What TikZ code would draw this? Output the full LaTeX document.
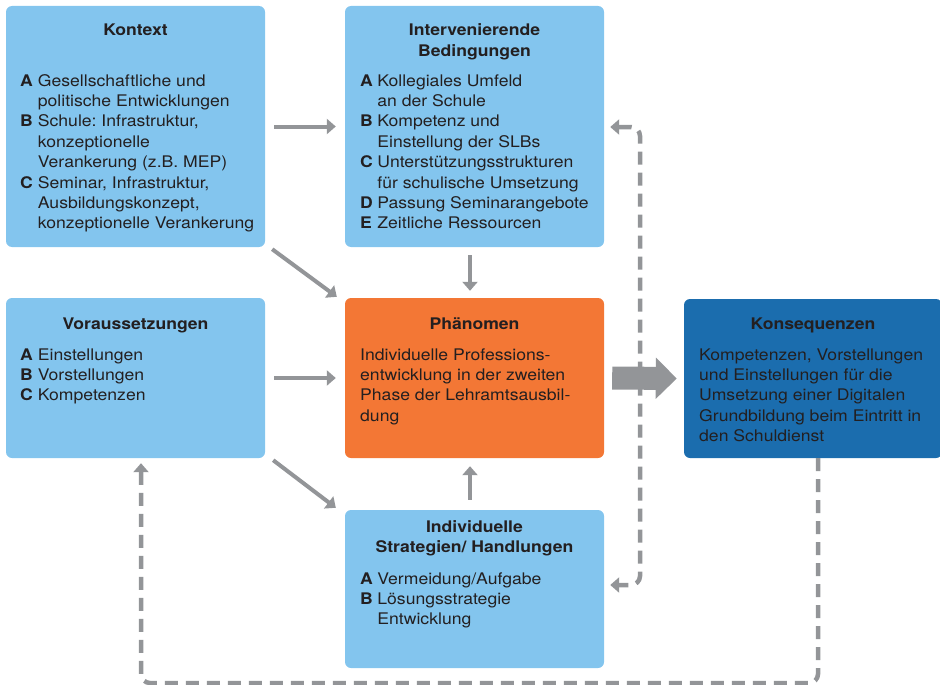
\documentclass[tikz,border=0pt]{standalone}
\usepackage{fontspec}
\setmainfont[FakeStretch = 1.1]{TeX Gyre Heros}
\usetikzlibrary{positioning, arrows.meta, calc}
\frenchspacing
\definecolor{lightblue}{HTML}{83C5EE}
\definecolor{orangebox}{HTML}{F37735}
\definecolor{darkblue}{HTML}{1B6DAE}
\definecolor{arrowgray}{HTML}{939598}
\definecolor{textdark}{HTML}{231F20}
\newcommand{\boxfont}{\fontsize{16}{20.4}\selectfont}
\tikzset{%
  block/.style    = {rectangle, rounded corners = 6pt, minimum width = 259pt,
    inner sep = 0pt},
  head/.style     = {anchor = base, inner sep = 0pt, text = textdark,
    font = \boxfont\bfseries}, % Title
  list/.style     = {anchor = base west, inner sep = 0pt, text = textdark,
    font = \boxfont}, % Items
  flow/.style     = {draw = arrowgray, line width = 4pt,
    -{Triangle[length = 9pt, width = 15pt]}},
  bigflow/.style  = {draw = arrowgray, line width = 23pt,
    -{Triangle[length = 21pt, width = 40pt]}},
  feedback/.style = {draw = arrowgray, line width = 4.5pt, rounded corners = 9pt,
    dash pattern = on 13pt off 8pt}
}

\begin{document}
\begin{tikzpicture}[x = 1pt, y = -1pt]
\useasboundingbox (0,0) rectangle (940,685);
%blocks
\draw
	(135.5,126.5) node [block, fill = lightblue, minimum height = 241pt] (kontext) {}
	(474.5,126.5) node [block, fill = lightblue, minimum height = 241pt] (interv) {}
	(135.5,378) node [block, fill = lightblue, minimum height = 160pt] (voraus) {}
	(474.5,378) node [block, fill = orangebox, minimum height = 160pt] (phaen) {}
	(813,378.5) node [block, fill = darkblue, minimum height = 159pt, minimum width = 258pt] (kons) {}
	(474.5,589) node [block, fill = lightblue, minimum height = 158pt] (indiv) {};
%block texts
\node [head] (kontextHead) at (135.5,36) {Kontext};
\node [list] (kontextList) at (20,86) {\begin{tabular}[t]{@{}l@{\hspace{5pt}}l@{}}
	\textbf{A} & Gesellschaftliche und\\ & politische Entwicklungen\\
	\textbf{B} & Schule: Infrastruktur,\\ & konzeptionelle\\ & Verankerung (z.B. MEP)\\
	\textbf{C} & Seminar, Infrastruktur,\\ & Ausbildungskonzept,\\ & konzeptionelle Verankerung
	\end{tabular}};
\node [head] (intervHead) at (474.5,36) {\begin{tabular}[t]{@{}c@{}}Intervenierende\\Bedingungen\end{tabular}};
\node [list] (intervList) at (360,86) {\begin{tabular}[t]{@{}l@{\hspace{4.5pt}}l@{}}
	\textbf{A} & Kollegiales Umfeld\\ & an der Schule\\
	\textbf{B} & Kompetenz und\\ & Einstellung der SLBs\\
	\textbf{C} & Unterstützungsstrukturen\\ & für schulische Umsetzung\\
	\textbf{D} & Passung Seminarangebote\\
	\textbf{E} & Zeitliche Ressourcen
	\end{tabular}};
\node [head] (vorausHead) at (135.5,329) {Voraussetzungen};
\node [list] (vorausList) at (20,360) {\begin{tabular}[t]{@{}l@{\hspace{5pt}}l@{}}
	\textbf{A} & Einstellungen\\ \textbf{B} & Vorstellungen\\ \textbf{C} & Kompetenzen
	\end{tabular}};
\node [head] (phaenHead) at (474.5,329) {Phänomen};
\node [list] (phaenList) at (360,360) {\begin{tabular}[t]{@{}l@{}}
	Individuelle Professions-\\entwicklung in der zweiten\\Phase der Lehramtsausbil-\\dung
	\end{tabular}};
\node [head] (konsHead) at (813,329) {Konsequenzen};
\node [list] (konsList) at (699,360) {\begin{tabular}[t]{@{}l@{}}
	Kompetenzen, Vorstellungen\\und Einstellungen für die\\Umsetzung einer Digitalen\\
	Grundbildung beim Eintritt in\\den Schuldienst
	\end{tabular}};
\node [head] (indivHead) at (474.5,532) {\begin{tabular}[t]{@{}c@{}}Individuelle\\Strategien/ Handlungen\end{tabular}};
\node [list] (indivList) at (360,584) {\begin{tabular}[t]{@{}l@{\hspace{4.5pt}}l@{}}
	\textbf{A} & Vermeidung/Aufgabe\\ \textbf{B} & Lösungsstrategie\\ & Entwicklung
	\end{tabular}};
%lines
\draw[flow] ([xshift = 9pt]kontext.east) -- ([xshift = -9pt]interv.west);
\draw[flow] ([xshift = 7pt, yshift = -2pt]kontext.south east) -- ([xshift = -8pt, yshift = 1pt]phaen.north west);
\draw[flow] ([xshift = -4.5pt, yshift = -8pt]interv.south) -- ([xshift = -4.5pt, yshift = 7pt]phaen.north);
\draw[flow] ([xshift = 9pt]voraus.east) -- ([xshift = -9pt]phaen.west);
\draw[flow] ([xshift = 8pt, yshift = -2pt]voraus.south east) -- ([xshift = -9pt, yshift = 2pt]indiv.north west);
\draw[flow] ([xshift = -4.5pt, yshift = 10pt]indiv.north) -- ([xshift = -4.5pt, yshift = -8pt]phaen.south);
\draw[bigflow] ([xshift = 8pt]phaen.east) -- ([xshift = -7pt]kons.west);
%feedback lines
\coordinate (fbTop) at (640,127);
\coordinate (fbMid) at (640,585);
\coordinate (fbRight) at (818,683);
\coordinate (fbLeft) at (141,683);
\draw[feedback, {Triangle[length = 9pt, width = 15pt]}-{Triangle[length = 9pt, width = 15pt]}]
	([xshift = 6pt]interv.east |- fbTop) -- (fbTop) -- (fbMid) -- ([xshift = 6pt]indiv.east |- fbMid);
\draw[feedback, -{Triangle[length = 9pt, width = 15pt]}]
	(kons.south -| fbRight) -- (fbRight) -- (fbLeft) -- ([yshift = -5pt]voraus.south -| fbLeft);
\end{tikzpicture}
\end{document}
